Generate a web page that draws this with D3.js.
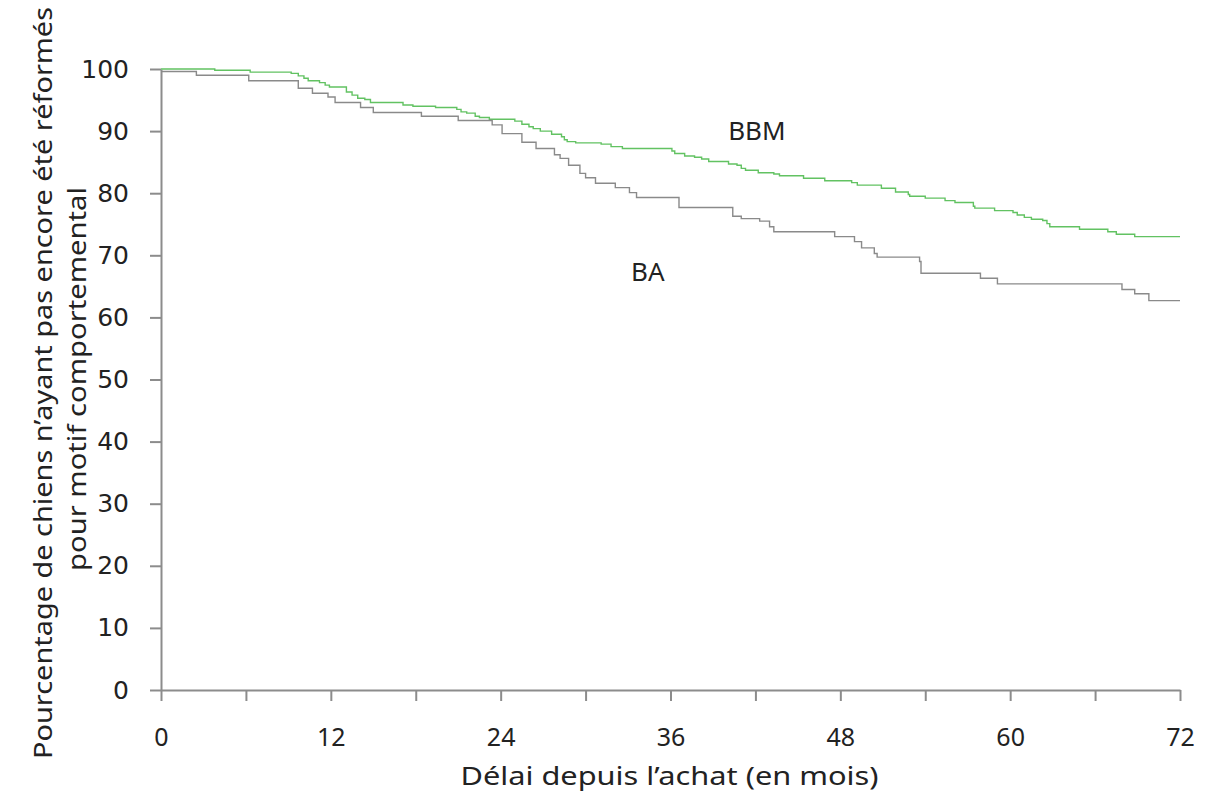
<!DOCTYPE html>
<html>
<head>
<meta charset="utf-8">
<script src="https://cdn.jsdelivr.net/npm/d3@7"></script>
<style>
  body { margin: 0; background: #fff; }
  svg { display: block; }
  .axis path, .axis line { stroke: #8c8c8c; stroke-width: 2px; }
</style>
</head>
<body>
<svg id="chartSVG" width="1215" height="798"></svg>
<script>
// survival steps [month, % not yet retired]
var bbmSteps = [
  [0, 100], [3.8, 99.8], [6.3, 99.5], [9.2, 99.3], [9.7, 98.9], [10.1, 98.5], [10.4, 98.1],
  [11.2, 97.8], [11.6, 97.4], [11.9, 97.1], [13.1, 96.3], [13.5, 95.8], [13.9, 95.3],
  [14.4, 95.1], [14.8, 94.6], [17.1, 94.2], [17.8, 94.0], [19.4, 93.8], [20.9, 93.5],
  [21.2, 93.1], [21.6, 92.9], [22.2, 92.4], [22.5, 92.2], [23.2, 91.9], [25.0, 91.6],
  [25.5, 91.1], [26.0, 90.7], [26.3, 90.4], [26.8, 90.0], [27.6, 89.5], [28.3, 89.1],
  [28.5, 88.6], [28.7, 88.3], [29.3, 88.1], [31.1, 87.9], [31.8, 87.5], [32.6, 87.2],
  [36.1, 86.8], [36.3, 86.4], [37.0, 86.0], [37.7, 85.8], [38.2, 85.5], [38.7, 85.1],
  [40.1, 84.7], [40.7, 84.5], [41.0, 84.0], [41.3, 83.7], [42.2, 83.3], [43.3, 83.1],
  [43.7, 82.8], [45.4, 82.4], [46.9, 82.0], [48.8, 81.7], [49.2, 81.3], [50.9, 80.8],
  [51.9, 80.2], [52.8, 79.8], [52.9, 79.5], [54.0, 79.2], [55.4, 78.8], [56.1, 78.5],
  [57.4, 77.9], [57.5, 77.6], [58.9, 77.2], [60.2, 76.9], [60.5, 76.5], [61.0, 76.1],
  [61.5, 75.8], [62.3, 75.6], [62.6, 75.1], [62.8, 74.6], [64.9, 74.2], [66.9, 73.8],
  [67.5, 73.4], [68.8, 73.0], [72, 73.0]
];

var baSteps = [
  [0, 99.6], [2.5, 99.0], [6.2, 98.1], [9.7, 96.9], [10.7, 96.1], [11.8, 95.5], [12.3, 94.6],
  [14.1, 93.8], [15.0, 93.0], [18.4, 92.4], [21.0, 91.7], [23.4, 91.0], [24.1, 89.6],
  [25.5, 88.2], [26.5, 87.2], [27.8, 86.2], [28.2, 85.6], [28.8, 84.5], [29.6, 83.2],
  [30.0, 82.5], [30.7, 81.6], [32.1, 80.9], [33.1, 80.1], [33.6, 79.3], [36.6, 77.7],
  [40.4, 76.3], [41.0, 75.9], [42.3, 75.5], [43.0, 74.6], [43.3, 73.8], [47.6, 73.0],
  [49.0, 72.2], [49.5, 71.2], [50.4, 70.3], [50.6, 69.7], [53.6, 69.0], [53.7, 67.1],
  [57.9, 66.3], [59.1, 65.4], [67.9, 64.5], [68.8, 63.8], [69.8, 62.7], [72, 62.7]
];

var xTicks = [0, 12, 24, 36, 48, 60, 72];
var xMinorTicks = [0, 6, 12, 18, 24, 30, 36, 42, 48, 54, 60, 66, 72];
var yTicks = [0, 10, 20, 30, 40, 50, 60, 70, 80, 90, 100];

var seriesList = [
  { id: 'BBM', values: bbmSteps, color: '#62c262', labelAt: [42.1, 88.6] },
  { id: 'BA', values: baSteps, color: '#8a8a8a', labelAt: [34.4, 65.9] }
];

var svg = d3.select("#chartSVG"),
    margin = {top: 69, right: 35, bottom: 108, left: 161},
    width = svg.attr("width") - margin.left - margin.right,
    height = svg.attr("height") - margin.top - margin.bottom;

var g = svg.append("g").attr("transform", "translate(" + margin.left + "," + margin.top + ")");

var x = d3.scaleLinear().domain([0, 72]).range([0, width]),
    y = d3.scaleLinear().domain([0, 100]).range([height, 0]);

// x axis: minor ticks every 6 months, labels every 12
var xAxis = g.append("g")
    .attr("class", "axis axis--x")
    .attr("transform", "translate(0," + height + ")")
    .call(d3.axisBottom(x).tickValues(xMinorTicks).tickSize(11).tickSizeOuter(0).tickFormat(""));

xAxis.selectAll(".tick")
    .filter(function(d) { return xTicks.indexOf(d) >= 0; })
    .append("text")
      .attr("y", 56)
      .attr("fill", "#222")
      .attr("text-anchor", "middle")
      .style("font-family", "'Liberation Sans Narrow', 'Noto Sans', sans-serif")
      .style("font-size", "25px")
      .text(function(d) { return d; });

var yAxis = g.append("g")
    .attr("class", "axis axis--y")
    .call(d3.axisLeft(y).tickValues(yTicks).tickSize(11).tickSizeOuter(0));

yAxis.selectAll(".tick text")
    .attr("x", -32)
    .attr("fill", "#222")
    .style("font-family", "'DejaVu Sans', Verdana, sans-serif")
    .style("font-size", "25px");

var line = d3.line()
    .curve(d3.curveStepAfter)
    .x(function(d) { return x(d[0]); })
    .y(function(d) { return y(d[1]); });

var ser = g.selectAll(".ser")
    .data(seriesList)
    .enter().append("g")
      .attr("class", "ser");

ser.append("path")
    .attr("fill", "none")
    .attr("d", function(d) { return line(d.values); })
    .style("stroke", function(d) { return d.color; })
    .style("stroke-width", 1.4);

ser.append("text")
    .attr("x", function(d) { return x(d.labelAt[0]); })
    .attr("y", function(d) { return y(d.labelAt[1]); })
    .attr("text-anchor", "middle")
    .attr("fill", "#222")
    .style("font-family", "'Noto Sans', sans-serif")
    .style("font-size", "26px")
    .text(function(d) { return d.id; });

// axis titles
svg.append("text")
    .attr("x", margin.left + width / 2 - 1)
    .attr("y", 785)
    .attr("text-anchor", "middle")
    .attr("fill", "#222")
    .attr("textLength", 418)
    .attr("lengthAdjust", "spacingAndGlyphs")
    .style("font-family", "'Noto Sans', sans-serif")
    .style("font-size", "25px")
    .text("Délai depuis l’achat (en mois)");

var yTitle = svg.append("g")
    .attr("transform", "translate(0,383) rotate(-90)");

yTitle.append("text")
    .attr("x", 0)
    .attr("y", 52)
    .attr("text-anchor", "middle")
    .attr("fill", "#222")
    .attr("textLength", 752)
    .attr("lengthAdjust", "spacingAndGlyphs")
    .style("font-family", "'Noto Sans', sans-serif")
    .style("font-size", "25px")
    .text("Pourcentage de chiens n’ayant pas encore été réformés");

yTitle.append("text")
    .attr("x", 4)
    .attr("y", 86)
    .attr("text-anchor", "middle")
    .attr("fill", "#222")
    .attr("textLength", 384)
    .attr("lengthAdjust", "spacingAndGlyphs")
    .style("font-family", "'Noto Sans', sans-serif")
    .style("font-size", "25px")
    .text("pour motif comportemental");
</script>
</body>
</html>
